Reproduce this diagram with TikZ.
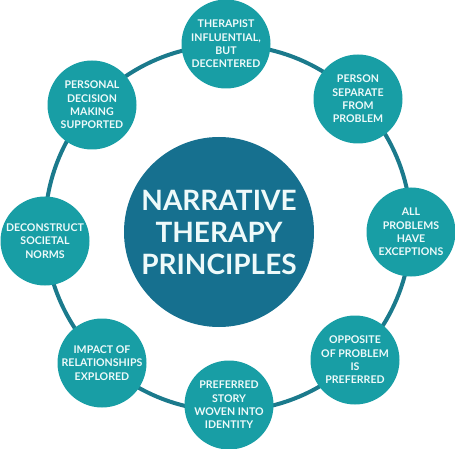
\documentclass[tikz,border=0pt]{standalone}
\usepackage{fontspec}
\setmainfont{Lato}
\definecolor{RingTeal}{HTML}{1B7A8C}
\definecolor{HubBlue}{HTML}{16708F}
\definecolor{PetalTeal}{HTML}{189EA5}
\definecolor{SoftWhite}{HTML}{EEFAFA}
\usetikzlibrary{positioning}
\tikzset{
    % Circles on the ring
    hub/.style={
        circle,
        fill=HubBlue,
        minimum size=190pt,
        inner sep=0pt,
        align=center,
        text=SoftWhite,
        font=\fontsize{28}{32}\selectfont\bfseries
    },
    principle/.style={
        circle,
        fill=PetalTeal,
        minimum size=89pt,
        inner sep=0pt,
        align=center,
        text=SoftWhite,
        font=\fontsize{10.6}{13.3}\selectfont\bfseries
    },
    ringline/.style={
        draw=RingTeal,
        line width=4pt
    }
}
\begin{document}
\begin{tikzpicture}[x=1pt, y=-1pt]
    \useasboundingbox (0,0) rectangle (455,449);

    % Ring
    \coordinate (ringc) at (228,228);
    \draw[ringline] (ringc) circle[radius=183];

    \node[hub] (centre) at (219,232) {NARRATIVE\\THERAPY\\PRINCIPLES};

    \node[principle] (therapist) at (226,44) {THERAPIST\\INFLUENTIAL,\\BUT\\DECENTERED};
    \node[principle] (separate) at (358,99) {PERSON\\SEPARATE\\FROM\\PROBLEM};
    \node[principle] (exceptions) at (411,232) {ALL\\PROBLEMS\\HAVE\\EXCEPTIONS};
    \node[principle] (opposite) at (355,360) {OPPOSITE\\OF PROBLEM\\IS\\PREFERRED};
    \node[principle] (story) at (229,405) {PREFERRED\\STORY\\WOVEN INTO\\IDENTITY};
    \node[principle] (impact) at (102,363) {IMPACT OF\\RELATIONSHIPS\\EXPLORED};
    \node[principle] (norms) at (45,241) {DECONSTRUCT\\SOCIETAL\\NORMS};
    \node[principle] (decision) at (92,105) {PERSONAL\\DECISION\\MAKING\\SUPPORTED};
\end{tikzpicture}
\end{document}
